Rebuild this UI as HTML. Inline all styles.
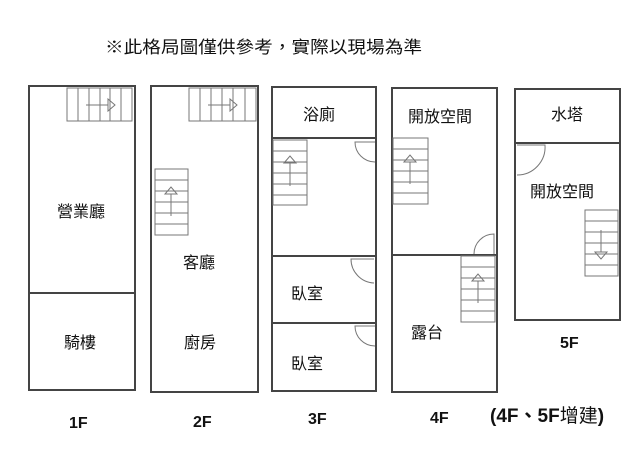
<!DOCTYPE html>
<html><head><meta charset="utf-8"><style>
html,body{margin:0;padding:0;background:#fff;}
svg{display:block;}
text{font-family:"Liberation Sans","Noto Sans CJK TC",sans-serif;fill:#111;}
.r{font-size:16px;}
.b{font-size:16px;font-weight:bold;}
</style></head><body>
<svg width="640" height="473" viewBox="0 0 640 473" xmlns="http://www.w3.org/2000/svg">
<text x="105" y="53" font-size="17" textLength="317" lengthAdjust="spacingAndGlyphs">※此格局圖僅供參考，實際以現場為準</text>
<g fill="none" stroke="#444" stroke-width="2">
<rect x="29" y="86" width="106" height="304"/>
<line x1="29" y1="293" x2="135" y2="293"/>
<rect x="151" y="86" width="107" height="306"/>
<rect x="272" y="87" width="104" height="304"/>
<line x1="272" y1="138" x2="376" y2="138"/>
<line x1="272" y1="256" x2="376" y2="256"/>
<line x1="272" y1="323" x2="376" y2="323"/>
<rect x="392" y="88" width="105" height="304"/>
<line x1="392" y1="255" x2="497" y2="255"/>
<rect x="515" y="89" width="105" height="231"/>
<line x1="515" y1="143" x2="620" y2="143"/>
</g>
<g fill="none" stroke="#777" stroke-width="1">
<rect x="67" y="88" width="65" height="33"/>
<line x1="78" y1="88" x2="78" y2="121"/><line x1="89" y1="88" x2="89" y2="121"/><line x1="100" y1="88" x2="100" y2="121"/><line x1="110" y1="88" x2="110" y2="121"/><line x1="121" y1="88" x2="121" y2="121"/>
<line x1="86" y1="105" x2="108" y2="105"/><polygon points="108,99 115,105 108,111"/>
<rect x="189" y="88" width="67" height="33"/>
<line x1="200" y1="88" x2="200" y2="121"/><line x1="211" y1="88" x2="211" y2="121"/><line x1="222" y1="88" x2="222" y2="121"/><line x1="233" y1="88" x2="233" y2="121"/><line x1="245" y1="88" x2="245" y2="121"/>
<line x1="208" y1="105" x2="230" y2="105"/><polygon points="230,99 237,105 230,111"/>
<rect x="155" y="169" width="33" height="66"/>
<line x1="155" y1="180" x2="188" y2="180"/><line x1="155" y1="191" x2="188" y2="191"/><line x1="155" y1="202" x2="188" y2="202"/><line x1="155" y1="213" x2="188" y2="213"/><line x1="155" y1="224" x2="188" y2="224"/>
<line x1="171" y1="216" x2="171" y2="194"/><polygon points="165,194 171,187 177,194"/>
<rect x="273" y="140" width="34" height="65"/>
<line x1="273" y1="151" x2="307" y2="151"/><line x1="273" y1="162" x2="307" y2="162"/><line x1="273" y1="173" x2="307" y2="173"/><line x1="273" y1="184" x2="307" y2="184"/><line x1="273" y1="195" x2="307" y2="195"/>
<line x1="290" y1="186" x2="290" y2="163"/><polygon points="284,163 290,156 296,163"/>
<path d="M375 162 A20 20 0 0 1 355 142 L375 142"/>
<path d="M374 283 A24 24 0 0 1 351 259 L374 259"/>
<path d="M375 346 A20 20 0 0 1 355 326 L375 326"/>
<rect x="393" y="138" width="35" height="66"/>
<line x1="393" y1="149" x2="428" y2="149"/><line x1="393" y1="160" x2="428" y2="160"/><line x1="393" y1="171" x2="428" y2="171"/><line x1="393" y1="182" x2="428" y2="182"/><line x1="393" y1="193" x2="428" y2="193"/>
<line x1="410" y1="184" x2="410" y2="162"/><polygon points="404,162 410,155 416,162"/>
<rect x="461" y="256" width="34" height="66"/>
<line x1="461" y1="267" x2="495" y2="267"/><line x1="461" y1="278" x2="495" y2="278"/><line x1="461" y1="289" x2="495" y2="289"/><line x1="461" y1="300" x2="495" y2="300"/><line x1="461" y1="311" x2="495" y2="311"/>
<line x1="478" y1="303" x2="478" y2="281"/><polygon points="472,281 478,274 484,281"/>
<path d="M474 254 A20 20 0 0 1 494 234 L494 254"/>
<path d="M517 175 A28 28 0 0 0 545 145 L517 145"/>
<rect x="585" y="210" width="33" height="66"/>
<line x1="585" y1="221" x2="618" y2="221"/><line x1="585" y1="232" x2="618" y2="232"/><line x1="585" y1="243" x2="618" y2="243"/><line x1="585" y1="254" x2="618" y2="254"/><line x1="585" y1="265" x2="618" y2="265"/>
<line x1="601" y1="230" x2="601" y2="252"/><polygon points="595,252 601,259 607,252"/>
</g>
<text class="r" x="57" y="217">營業廳</text>
<text class="r" x="64" y="348">騎樓</text>
<text class="r" x="183" y="268">客廳</text>
<text class="r" x="184" y="348">廚房</text>
<text class="r" x="303" y="120">浴廁</text>
<text class="r" x="291" y="299">臥室</text>
<text class="r" x="291" y="369">臥室</text>
<text class="r" x="408" y="122">開放空間</text>
<text class="r" x="411" y="338">露台</text>
<text class="r" x="551" y="120">水塔</text>
<text class="r" x="530" y="197">開放空間</text>
<text class="b" x="560" y="348">5F</text>
<text class="b" x="69" y="428">1F</text>
<text class="b" x="193" y="427">2F</text>
<text class="b" x="308" y="424">3F</text>
<text class="b" x="430" y="423">4F</text>
<text class="b" x="490" y="422" style="font-size:19px">(4F、5F<tspan font-weight="normal">增建</tspan>)</text>
</svg>
</body></html>
